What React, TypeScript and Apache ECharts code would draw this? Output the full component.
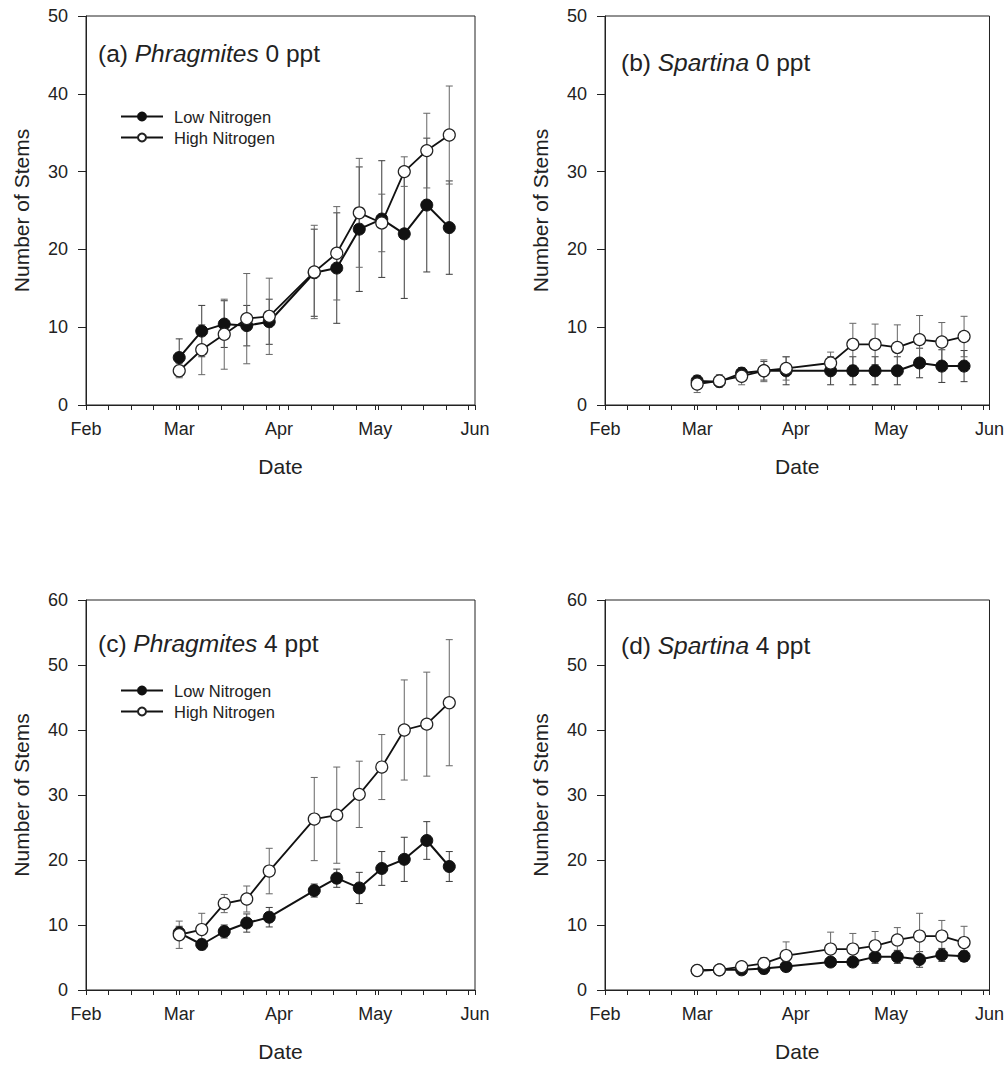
import React, { useEffect, useRef } from "react";
import * as echarts from "echarts";

// Day offsets from Feb 1 (Mar 1 = 29, leap year)
const days = [29, 36, 43, 50, 57, 71, 78, 85, 92, 99, 106, 113];
const monthDays = [0, 29, 60, 90, 121];
const monthNames = ["Feb", "Mar", "Apr", "May", "Jun"];
const weekDays = [0, 7, 14, 21, 28, 35, 42, 49, 56, 63, 70, 77, 84, 91, 98, 105, 112, 119];

// (a) Phragmites 0 ppt
const aLow = [6.1, 9.5, 10.4, 10.2, 10.7, 17.0, 17.6, 22.6, 23.9, 22.0, 25.7, 22.8];
const aLowErr = [2.4, 3.3, 3.0, 2.6, 2.9, 5.6, 7.1, 8.0, 7.5, 8.3, 8.6, 6.0];
const aHigh = [4.4, 7.1, 9.1, 11.1, 11.4, 17.1, 19.5, 24.7, 23.4, 30.0, 32.7, 34.7];
const aHighErr = [0.9, 3.2, 4.5, 5.8, 4.9, 6.0, 6.0, 7.0, 3.7, 1.9, 4.8, 6.3];

// (b) Spartina 0 ppt
const bLow = [3.1, 3.0, 4.1, 4.4, 4.4, 4.4, 4.4, 4.4, 4.4, 5.4, 5.0, 5.0];
const bLowErr = [0.5, 0.6, 0.7, 1.2, 1.8, 1.8, 1.8, 1.8, 1.8, 1.9, 2.1, 2.0];
const bHigh = [2.7, 3.1, 3.7, 4.4, 4.7, 5.4, 7.8, 7.8, 7.4, 8.4, 8.1, 8.8];
const bHighErr = [1.1, 0.8, 1.1, 1.4, 1.5, 1.4, 2.7, 2.6, 2.9, 3.1, 2.5, 2.6];

// (c) Phragmites 4 ppt
const cLow = [8.8, 7.0, 9.0, 10.3, 11.2, 15.3, 17.2, 15.7, 18.7, 20.1, 23.0, 19.0];
const cLowErr = [1.0, 0.8, 1.0, 1.4, 1.5, 1.0, 1.4, 2.4, 2.6, 3.4, 2.9, 2.3];
const cHigh = [8.5, 9.3, 13.3, 14.0, 18.3, 26.3, 26.9, 30.1, 34.3, 40.0, 40.9, 44.2];
const cHighErr = [2.1, 2.5, 1.4, 2.0, 3.5, 6.4, 7.4, 5.1, 5.0, 7.7, 8.0, 9.7];

// (d) Spartina 4 ppt
const dLow = [3.0, 3.1, 3.1, 3.3, 3.6, 4.3, 4.3, 5.1, 5.1, 4.7, 5.4, 5.2];
const dLowErr = [0.4, 0.5, 0.6, 0.8, 0.6, 0.6, 0.6, 1.0, 1.0, 1.2, 1.0, 0.8];
const dHigh = [3.0, 3.1, 3.6, 4.1, 5.3, 6.3, 6.3, 6.8, 7.7, 8.3, 8.3, 7.3];
const dHighErr = [0.3, 0.4, 0.5, 0.9, 2.1, 2.6, 2.4, 2.2, 1.9, 3.5, 2.4, 2.5];

const panels = [
  { label: "(a) ", genus: "Phragmites", sal: " 0 ppt", low: aLow, lowErr: aLowErr, high: aHigh, highErr: aHighErr, ymax: 50 },
  { label: "(b) ", genus: "Spartina", sal: " 0 ppt", low: bLow, lowErr: bLowErr, high: bHigh, highErr: bHighErr, ymax: 50 },
  { label: "(c) ", genus: "Phragmites", sal: " 4 ppt", low: cLow, lowErr: cLowErr, high: cHigh, highErr: cHighErr, ymax: 60 },
  { label: "(d) ", genus: "Spartina", sal: " 4 ppt", low: dLow, lowErr: dLowErr, high: dHigh, highErr: dHighErr, ymax: 60 },
];

const FONT = "Liberation Sans";
const INK = "#222";

const grids = [
  { left: 86, top: 16, width: 389, height: 389 },
  { left: 605, top: 16, width: 386, height: 389 },
  { left: 86, top: 600, width: 389, height: 390 },
  { left: 605, top: 600, width: 386, height: 390 },
];

const titlePos = [
  { left: 98, top: 41 },
  { left: 621, top: 50 },
  { left: 98, top: 631 },
  { left: 621, top: 633 },
];

const legendPos = [
  { left: 115, top: 103 },
  null,
  { left: 115, top: 677 },
  null,
];

function errRender(color: string) {
  return (params: any, api: any) => {
    const x = api.value(0);
    const lo = api.value(1);
    const hi = api.value(2);
    const p1 = api.coord([x, hi]);
    const p2 = api.coord([x, lo]);
    const w = 3.5;
    const style = { stroke: color, lineWidth: 1 };
    return {
      type: "group",
      children: [
        { type: "line", shape: { x1: p1[0], y1: p1[1], x2: p2[0], y2: p2[1] }, style },
        { type: "line", shape: { x1: p1[0] - w, y1: p1[1], x2: p1[0] + w, y2: p1[1] }, style },
        { type: "line", shape: { x1: p2[0] - w, y1: p2[1], x2: p2[0] + w, y2: p2[1] }, style },
      ],
    };
  };
}

export default function App() {
  const ref = useRef<HTMLDivElement>(null);
  useEffect(() => {
    if (!ref.current) return;
    const chart = echarts.init(ref.current, undefined, { renderer: "svg" });

    const xAxis: any[] = [];
    const yAxis: any[] = [];
    const series: any[] = [];
    const title: any[] = [];
    const legend: any[] = [];

    panels.forEach((p, i) => {
      xAxis.push({
        type: "value",
        gridIndex: i,
        min: 0,
        max: 121,
        name: "Date",
        nameLocation: "middle",
        nameGap: 51,
        nameTextStyle: { fontSize: 21, fontFamily: FONT, color: INK },
        axisLine: { show: true, lineStyle: { color: INK, width: 1 } },
        axisTick: { show: true, inside: false, length: 5, lineStyle: { color: INK }, customValues: weekDays.concat(monthDays) },
        axisLabel: {
          show: true,
          fontSize: 18,
          fontFamily: FONT,
          color: INK,
          margin: 15,
          customValues: monthDays,
          formatter: (v: number) => monthNames[monthDays.indexOf(Math.round(v))] || "",
        },
        splitLine: { show: false },
      });
      yAxis.push({
        type: "value",
        gridIndex: i,
        min: 0,
        max: p.ymax,
        interval: 10,
        name: "Number of Stems",
        nameLocation: "middle",
        nameGap: 54,
        nameTextStyle: { fontSize: 21, fontFamily: FONT, color: INK },
        axisLine: { show: true, lineStyle: { color: INK, width: 1 } },
        axisTick: { show: true, inside: false, length: 8, lineStyle: { color: INK } },
        axisLabel: { fontSize: 18, fontFamily: FONT, color: INK, margin: 18 },
        splitLine: { show: false },
      });
      title.push({
        text: p.label + "{i|" + p.genus + "}" + p.sal,
        left: titlePos[i].left,
        top: titlePos[i].top,
        padding: 0,
        textStyle: {
          fontSize: 24.5,
          fontWeight: "normal",
          fontFamily: FONT,
          color: INK,
          rich: { i: { fontStyle: "italic", fontSize: 24.5, fontFamily: FONT, color: INK } },
        },
      });
      if (legendPos[i]) {
        legend.push({
          left: legendPos[i]!.left,
          top: legendPos[i]!.top,
          orient: "vertical",
          data: ["Low Nitrogen", "High Nitrogen"],
          itemWidth: 42,
          itemHeight: 10,
          itemGap: 4,
          selectedMode: false,
          textStyle: { fontSize: 16.5, fontFamily: FONT, color: INK, padding: [0, 0, 0, 6] },
        });
      }
      const lowErrData = days.map((d, k) => [d, p.low[k] - p.lowErr[k], p.low[k] + p.lowErr[k]]);
      const highErrData = days.map((d, k) => [d, p.high[k] - p.highErr[k], p.high[k] + p.highErr[k]]);
      series.push({
        type: "custom",
        name: "errLow" + i,
        xAxisIndex: i,
        yAxisIndex: i,
        renderItem: errRender("#3a3a3a"),
        encode: { x: 0, y: [1, 2] },
        data: lowErrData,
        z: 1,
        silent: true,
      });
      series.push({
        type: "custom",
        name: "errHigh" + i,
        xAxisIndex: i,
        yAxisIndex: i,
        renderItem: errRender("#666"),
        encode: { x: 0, y: [1, 2] },
        data: highErrData,
        z: 1,
        silent: true,
      });
      series.push({
        type: "line",
        name: "Low Nitrogen",
        xAxisIndex: i,
        yAxisIndex: i,
        data: days.map((d, k) => [d, p.low[k]]),
        symbol: "circle",
        symbolSize: 12,
        showAllSymbol: true,
        lineStyle: { color: "#111", width: 2 },
        itemStyle: { color: "#111", borderColor: "#111", borderWidth: 1 },
        z: 3,
      });
      series.push({
        type: "line",
        name: "High Nitrogen",
        xAxisIndex: i,
        yAxisIndex: i,
        data: days.map((d, k) => [d, p.high[k]]),
        symbol: "circle",
        symbolSize: 12,
        showAllSymbol: true,
        lineStyle: { color: "#111", width: 1.8 },
        itemStyle: { color: "#fff", borderColor: "#222", borderWidth: 1.2 },
        z: 4,
      });
    });

    chart.setOption({
      animation: false,
      backgroundColor: "#fff",
      textStyle: { fontFamily: FONT },
      title,
      legend,
      grid: grids.map((g) => ({ ...g, show: true, borderColor: INK, borderWidth: 1, backgroundColor: "transparent" })),
      xAxis,
      yAxis,
      series,
    });
    return () => chart.dispose();
  }, []);
  return (
    <div
      ref={ref}
      style={{ position: "absolute", left: 0, top: 0, width: 1007, height: 1065, background: "#fff" }}
    />
  );
}
